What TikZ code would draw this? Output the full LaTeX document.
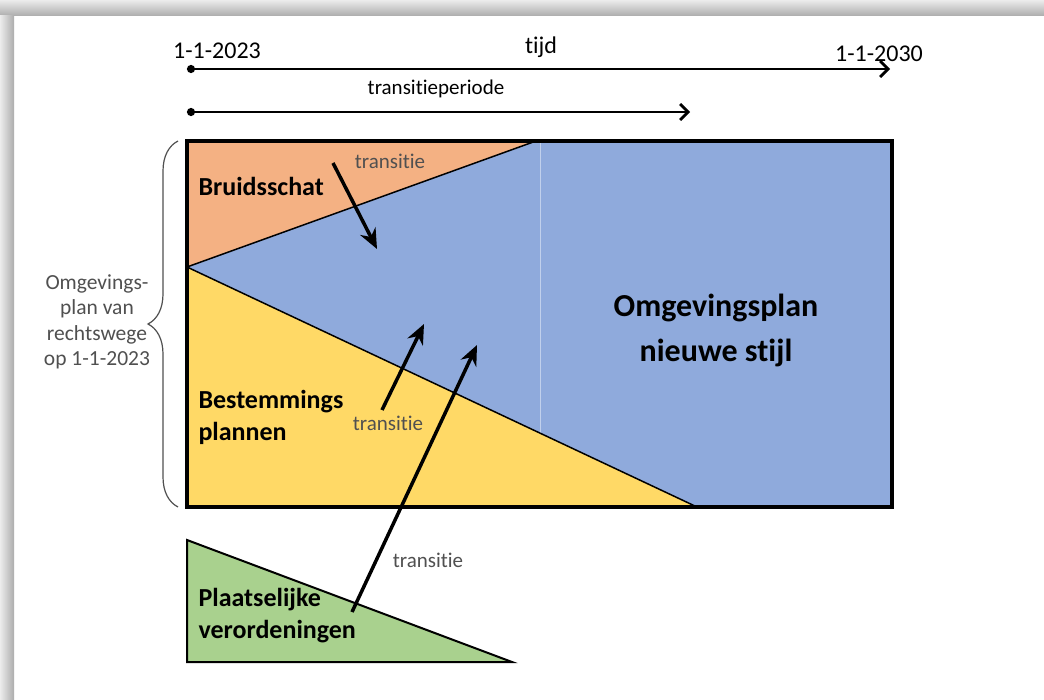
\documentclass[tikz,border=0pt]{standalone}
\usepackage{fontspec}
\setmainfont{Carlito}[Ligatures=NoCommon]
\usetikzlibrary{arrows.meta,decorations.pathreplacing}
\definecolor{oranje}{RGB}{244,177,131}
\definecolor{blauw}{RGB}{143,170,220}
\definecolor{geel}{RGB}{255,217,102}
\definecolor{groen}{RGB}{169,209,142}
\definecolor{donker}{RGB}{80,80,80}
\def\fs#1#2{\fontsize{#1}{#2}\selectfont}
\tikzset{
  tijdlijn/.style={line width=2.8pt,{Circle[length=8pt]}-{Straight Barb[length=8pt,width=16pt]}},
  overgang/.style={line width=3.5pt,-{Stealth[length=20pt,width=17pt]}},
  vlak/.style={draw=black,line width=1.5pt},
  klein/.style={font=\fs{21}{23},text=donker},
  groot/.style={font=\fs{26}{32}\bfseries,align=left,anchor=west},
}

\begin{document}
\begin{tikzpicture}[x=1pt,y=-1pt]
\useasboundingbox (0,0) rectangle (1044,700);
\fill[white] (0,0) rectangle (1044,700);
\shade[top color=gray!15,bottom color=gray!65] (0,0) rectangle (1044,16);
\shade[left color=gray!15,right color=gray!65] (0,16) rectangle (14,700);

\coordinate (lb) at (187,141);
\coordinate (rb) at (892,141);
\coordinate (ro) at (892,507);
\coordinate (lo) at (187,507);
\coordinate (knik) at (187,267);
\coordinate (bt) at (536,141);
\coordinate (bo) at (697,507);

\fill[blauw] (lb) rectangle (ro);
\draw[white!45!blauw,line width=1pt] (540,141) -- (540,507);
\filldraw[fill=oranje,vlak] (lb) -- (bt) -- (knik) -- cycle;
\filldraw[fill=geel,vlak] (knik) -- (bo) -- (lo) -- cycle;
\draw[line width=3.5pt] (lb) rectangle (ro);

\coordinate (gb) at (187,540);
\coordinate (go) at (187,662);
\coordinate (gr) at (512,662);
\filldraw[fill=groen,draw=black,line width=2pt] (gb) -- (go) -- (gr) -- cycle;

% tijdas
\coordinate (t0) at (187,69);
\coordinate (t1) at (890,69);
\coordinate (p0) at (187,112);
\coordinate (p1) at (690,112);
\draw[tijdlijn] (t0) -- (t1);
\draw[tijdlijn] (p0) -- (p1);
\node[font=\fs{24}{26}] (start) at (217,51) {1-1-2023};
\node[font=\fs{24}{26}] (tijd) at (541,47) {tijd};
\node[font=\fs{24}{26}] (eind) at (879,54) {1-1-2030};
\node[font=\fs{21}{24}] (periode) at (436,89) {transitieperiode};

\node[groot] (bruid) at (195,186) {Bruidsschat};
\node[groot] (bestem) at (195,417) {Bestemmings\\plannen};
\node[groot] (plaats) at (195,616) {Plaatselijke\\verordeningen};
\node[font=\fs{32}{45}\bfseries,align=center] (nieuw) at (716,330) {Omgevingsplan\\nieuwe stijl};

\node[klein] (tr1) at (390,161) {transitie};
\node[klein] (tr2) at (388,423) {transitie};
\node[klein] (tr3) at (428,560) {transitie};

\coordinate (a1) at (333,163);
\coordinate (b1) at (377,249);
\coordinate (a2) at (382,410);
\coordinate (b2) at (424,324);
\coordinate (a3) at (352,612);
\coordinate (b3) at (477,345);
\draw[overgang] (a1) -- (b1);
\draw[overgang] (a2) -- (b2);
\draw[overgang] (a3) -- (b3);

% accolade
\coordinate (ab) at (178,141);
\coordinate (ao) at (178,507);
\draw[donker,line width=1.2pt,decorate,decoration={brace,amplitude=30pt}] (ao) -- (ab);
\node[font=\fs{21.5}{25.5},text=donker,align=center] (recht) at (97,322)
  {Omgevings-\\plan van\\rechtswege\\op 1-1-2023};
\end{tikzpicture}
\end{document}
